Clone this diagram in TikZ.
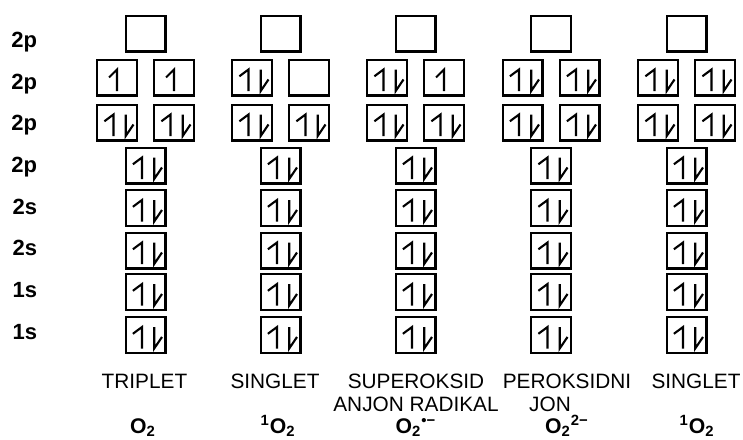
\documentclass[tikz,border=0pt]{standalone}
\usepackage{fontspec}
\setmainfont{Liberation Sans}
\usetikzlibrary{positioning}
\tikzset{
  orbital/.style={rectangle, draw=black, line width=1.15pt, minimum width=19.85pt,
                  minimum height=17.85pt, inner sep=0pt},
  halfup/.style={orbital, path picture={
      \begin{scope}[shift={(path picture bounding box.center)}]
        \draw[line width=1.05pt] (-4pt,0pt) -- (0pt,4pt) -- (0pt,-6.75pt);
      \end{scope}}},
  fullpair/.style={orbital, path picture={
      \begin{scope}[shift={(path picture bounding box.center)}]
        \draw[line width=1.05pt] (-6.3pt,0.6pt) -- (-1.75pt,4pt) -- (-1.75pt,-6.75pt);
        \draw[line width=1.05pt] (4.35pt,4pt) -- (4.35pt,-6.75pt) -- (8.25pt,-1pt);
      \end{scope}}},
  shelllabel/.style={anchor=base east, inner sep=0pt,
                     font=\fontsize{11pt}{12pt}\selectfont\bfseries},
  speciesname/.style={anchor=base, inner sep=0pt, align=center,
                      font=\fontsize{10.4pt}{11.5pt}\selectfont},
  formula/.style={anchor=base, inner sep=0pt,
                  font=\fontsize{10.6pt}{12pt}\selectfont\bfseries},
}

\begin{document}
\begin{tikzpicture}[x=0.5pt, y=-0.5pt]
    \useasboundingbox (0,0) rectangle (743,439);

    % Shell labels on the left
    \foreach \i/\lab in {0/2p,1/2p,2/2p,3/2p,4/2s,5/2s,6/1s,7/1s}
      \node[shelllabel] (shell-\i) at (37.5,47.4+41.67*\i) {\lab};

    % Top row: empty antibonding sigma orbital
    \node[orbital] (trip-r1) at (145.5,33.5) {};
    \node[orbital] (sing-r1) at (280.5,33.5) {};
    \node[orbital] (super-r1) at (415.5,33.5) {};
    \node[orbital] (perox-r1) at (551,33.5) {};
    \node[orbital] (singb-r1) at (686.5,33.5) {};

    % Second row: antibonding pi pair, filled differently per species
    \node[halfup] (trip-r2l) at (117,77.5) {};
    \node[halfup] (trip-r2r) at (174,77.5) {};
    \node[fullpair] (sing-r2l) at (252,77.5) {};
    \node[orbital] (sing-r2r) at (309,77.5) {};
    \node[fullpair] (super-r2l) at (387,77.5) {};
    \node[halfup] (super-r2r) at (444,77.5) {};
    \node[fullpair] (perox-r2l) at (522.5,77.5) {};
    \node[fullpair] (perox-r2r) at (579.5,77.5) {};
    \node[fullpair] (singb-r2l) at (658,77.5) {};
    \node[fullpair] (singb-r2r) at (715,77.5) {};

    % Third row: bonding pi pair, always full
    \node[fullpair] (trip-r3l) at (117,122.5) {};
    \node[fullpair] (trip-r3r) at (174,122.5) {};
    \node[fullpair] (sing-r3l) at (252,122.5) {};
    \node[fullpair] (sing-r3r) at (309,122.5) {};
    \node[fullpair] (super-r3l) at (387,122.5) {};
    \node[fullpair] (super-r3r) at (444,122.5) {};
    \node[fullpair] (perox-r3l) at (522.5,122.5) {};
    \node[fullpair] (perox-r3r) at (579.5,122.5) {};
    \node[fullpair] (singb-r3l) at (658,122.5) {};
    \node[fullpair] (singb-r3r) at (715,122.5) {};

    % Lower rows: single full orbitals
    \foreach \row/\y in {4/165.5,5/208,6/250.5,7/292,8/335}
      \foreach \col/\x in {trip/145.5,sing/280.5,super/415.5,perox/551,singb/686.5}
        \node[fullpair] (\col-r\row) at (\x,\y) {};

    % Species names
    \node[speciesname] (trip-name) at (144.5,388) {TRIPLET};
    \node[speciesname] (sing-name) at (275,388) {SINGLET};
    \node[speciesname] (super-name) at (416,411) {SUPEROKSID\\ANJON RADIKAL};
    \node[speciesname] (perox-name) at (567,388) {PEROKSIDNI};
    \node[speciesname] (perox-name2) at (550,411) {JON};
    \node[speciesname] (singb-name) at (696,388) {SINGLET};

    % Formulas
    \node[formula] (trip-formula) at (143,433) {O\textsubscript{2}};
    \node[formula] (sing-formula) at (278,433) {\textsuperscript{1}O\textsubscript{2}};
    \node[formula] (super-formula) at (416,433) {O\textsubscript{2}\textsuperscript{•−}};
    \node[formula] (perox-formula) at (567,433) {O\textsubscript{2}\textsuperscript{2−}};
    \node[formula] (singb-formula) at (697,433) {\textsuperscript{1}O\textsubscript{2}};
\end{tikzpicture}
\end{document}
